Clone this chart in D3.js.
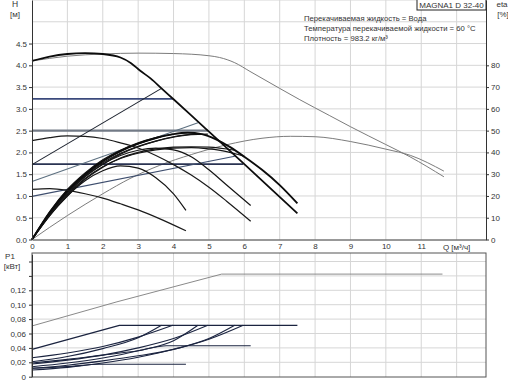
<!DOCTYPE html>
<html><head><meta charset="utf-8">
<script src="https://cdn.jsdelivr.net/npm/d3@7"></script>
<style>body{margin:0;background:#fff}svg{display:block}</style>
</head><body><svg id="c" width="508" height="381"></svg>
<script>
// ---------- tick labels / texts ----------
const qTicks=[0,1,2,3,4,5,6,7,8,9,10,11];
const qGrid=[1,2,3,4,5,6,7,8,9,10,11,12];
const hTicks=[0,0.5,1,1.5,2,2.5,3,3.5,4,4.5];
const hGrid=[0.5,1,1.5,2,2.5,3,3.5,4,4.5,5,5.5];
const etaTicks=[0,10,20,30,40,50,60,70,80];
const pTicks=[0,0.02,0.04,0.06,0.08,0.10,0.12,0.14,0.16];
const pLabelled=[0,0.02,0.04,0.06,0.08,0.10,0.12];
const titleText="MAGNA1 D 32-40";
const legendLines=["Перекачиваемая жидкость = Вода","Температура перекачиваемой жидкости = 60 °C","Плотность = 983.2 кг/м³"];

// ---------- H curves [Q m3/h, H m] ----------
const hMaxRef=[[0,4.1],[0.5,4.16],[1,4.21],[2,4.26],[3,4.28],[4,4.27],[5,4.22],[5.3,4.18],[5.73,4.06],[6.16,3.86],[7,3.47],[7.57,3.21],[8.4,2.85],[9,2.59],[10,2.18],[10.68,1.9],[11.64,1.44]];
const hMax=[[0,4.1],[0.5,4.2],[1,4.26],[1.5,4.28],[2,4.26],[2.5,4.18],[2.8,4.05],[3.05,3.88],[3.35,3.7],[3.66,3.47],[4,3.22],[4.5,2.85],[4.97,2.5],[6,1.73],[7.5,0.6]];
const hSpeed2=[[0,2.27],[0.5,2.34],[1,2.38],[1.5,2.37],[2,2.32],[2.5,2.22],[3,2.1],[3.5,1.93],[4,1.72],[4.5,1.48],[5,1.2],[5.5,0.88],[6.18,0.42]];
const hSpeed1=[[0,1.15],[0.5,1.17],[1,1.13],[1.5,1.05],[2,0.95],[2.5,0.82],[3,0.68],[3.6,0.48],[4.35,0.2]];
const cp3=[[0,3.23],[3.98,3.23]];
const cp2=[[0,2.5],[4.97,2.5]];
const cp1=[[0,1.73],[5.97,1.73]];
const pp3=[[0,1.72],[3.66,3.47]];
const pp2=[[0,1.33],[4.69,2.68]];
const pp1=[[0,0.99],[5.73,1.91]];

// ---------- efficiency curves [Q m3/h, eta %] ----------
const etaMaxRef=[[0,0],[1,11],[2,21],[2.77,28],[3.6,34],[4.5,39],[5.5,43.5],[6.5,46.5],[7.3,47.4],[8,47.2],[9,45],[10,41.5],[10.7,38.6],[11.64,31.4]];
const etaMax=[[0,0],[0.5,12.4],[1,22.4],[1.5,30],[2,36],[2.5,40.6],[3,44],[3.5,46.6],[4,48.4],[4.4,49],[4.8,48.4],[5.2,46],[5.6,42.4],[6,38],[6.5,32],[7,25],[7.5,16.6]];
const etaCp3=[[0,0],[0.5,12.8],[1,23],[1.5,30.6],[2,36.6],[2.5,41],[3,44.4],[3.5,46.8],[3.98,48.4]];
const etaPp3=[[0,0],[0.5,12],[1,22],[1.5,30],[2,36],[2.5,40.6],[3,44],[3.66,47.2]];
const etaCp2=[[0,0],[0.5,12],[1,22],[1.5,29.4],[2,35.2],[2.5,39.6],[3,42.8],[3.5,45.2],[4,47],[4.5,48.2],[4.97,48.4]];
const etaPp2=[[0,0],[0.5,11.6],[1,21.2],[1.5,28.8],[2,34.6],[2.5,39.2],[3,42.6],[3.5,45.2],[4,47.2],[4.69,48.6]];
const etaCp1=[[0,0],[0.5,11.2],[1,20.6],[1.5,28],[2,33.4],[2.5,37.2],[3,39.6],[3.5,41.2],[4,42],[4.5,42.2],[5,41.6],[5.5,40.4],[5.97,38.4]];
const etaPp1=[[0,0],[0.5,11],[1,20],[1.5,27.6],[2,33.2],[2.5,37.4],[3,40],[3.5,41.6],[4,42.4],[4.5,42.6],[5,42.4],[5.73,41]];
const etaSpeed2=[[0,0],[0.5,12],[1,21.6],[1.5,29],[2,34.6],[2.5,38.6],[3,41],[3.5,42],[4,41.2],[4.5,38],[5,32],[5.5,25],[6.18,15.6]];
const etaSpeed1=[[0,0],[0.5,11],[1,20],[1.5,27],[2,31.6],[2.5,33.8],[3,32.8],[3.5,28.4],[4,21],[4.35,13.4]];

// ---------- power curves [Q m3/h, P1 kW] ----------
const pMaxRef=[[0,0.0705],[2.4,0.104],[5.36,0.1425],[11.6,0.1425]];
const pMax=[[0,0.038],[2.47,0.0714],[7.5,0.0714]];
const pCp3=[[0,0.0264],[1,0.033],[2,0.042],[3,0.055],[3.98,0.0714]];
const pPp3=[[0,0.0208],[1,0.028],[2,0.039],[3,0.054],[3.66,0.0714]];
const pCp2=[[0,0.0176],[1,0.023],[2,0.03],[3,0.04],[4,0.053],[4.97,0.0714]];
const pPp2=[[0,0.0139],[1,0.019],[2,0.026],[3,0.036],[4,0.05],[4.69,0.0714]];
const pCp1=[[0,0.0117],[1,0.016],[2,0.022],[3,0.029],[4,0.038],[5,0.052],[5.97,0.0714]];
const pPp1=[[0,0.0093],[1,0.013],[2,0.019],[3,0.027],[4,0.038],[5,0.053],[5.73,0.0714]];
const pSpeed2=[[0,0.019],[1,0.024],[2,0.03],[3,0.036],[3.8,0.043],[6.18,0.043]];
const pSpeed1=[[0,0.0117],[1,0.014],[1.9,0.0172],[4.35,0.0172]];

// ---------- layout ----------
const svg=d3.select("#c");
const FONT="'Liberation Sans', Arial, sans-serif";
svg.attr("font-family",FONT);
const xL=32,xR=486;
const x=d3.scaleLinear().domain([0,12.83]).range([xL,xR]);
const yH=d3.scaleLinear().domain([0,5.5]).range([239.5,0]);
const yE=d3.scaleLinear().domain([0,110]).range([239.5,0]);
const pTop=253,pBot=377;
const yP=d3.scaleLinear().domain([0,0.17]).range([376.7,254.3]);

const gridC="#d6d6d6";
// top grid
const gTop=svg.append("g");
gTop.selectAll("line.v").data(qGrid).join("line").attr("x1",d=>x(d)).attr("x2",d=>x(d)).attr("y1",0).attr("y2",yH(0)).attr("stroke",gridC);
gTop.selectAll("line.h").data(hGrid).join("line").attr("x1",xL).attr("x2",xR).attr("y1",d=>yH(d)).attr("y2",d=>yH(d)).attr("stroke",gridC);
// bottom grid
const gBot=svg.append("g");
gBot.selectAll("line.v").data(qGrid).join("line").attr("x1",d=>x(d)).attr("x2",d=>x(d)).attr("y1",pTop).attr("y2",pBot).attr("stroke",gridC);
gBot.selectAll("line.h").data(pTicks.slice(1)).join("line").attr("x1",xL).attr("x2",xR).attr("y1",d=>yP(d)).attr("y2",d=>yP(d)).attr("stroke",gridC);

function draw(data,ys,color,w,curve){
  const ln=d3.line().x(d=>x(d[0])).y(d=>ys(d[1])).curve(curve||d3.curveMonotoneX);
  svg.append("path").attr("d",ln(data)).attr("fill","none").attr("stroke",color).attr("stroke-width",w).attr("stroke-linejoin","round");
}
// gray reference curves
draw(hMaxRef,yH,"#7c7c7c",1);
draw(etaMaxRef,yE,"#7c7c7c",1);
// constant pressure
draw(cp3,yH,"#3b4a7c",1.6,d3.curveLinear);
draw(cp2,yH,"#727a86",2.2,d3.curveLinear);
draw(cp1,yH,"#2a3352",1.6,d3.curveLinear);
// proportional pressure
draw(pp3,yH,"#1e2430",1.1,d3.curveLinear);
draw(pp2,yH,"#5d7080",1.1,d3.curveLinear);
draw(pp1,yH,"#3e4e6e",1.1,d3.curveLinear);
// eta curves
[etaCp3,etaPp3,etaCp2,etaPp2,etaCp1,etaPp1,etaSpeed2,etaSpeed1].forEach(d=>draw(d,yE,"#151515",1.2));
draw(etaMax,yE,"#0c0c0c",1.9);
// H speed curves
draw(hSpeed2,yH,"#1a1a1a",1.2);
draw(hSpeed1,yH,"#1a1a1a",1.2);
draw(hMax,yH,"#0c0c0c",1.8);

// power curves
draw(pMaxRef,yP,"#8a8a8a",1,d3.curveLinear);
[pCp3,pPp3,pCp2,pPp2,pCp1,pPp1,pSpeed2,pSpeed1].forEach(d=>draw(d,yP,"#1b2440",1.1));
draw(pMax,yP,"#1b2440",1.3,d3.curveLinear);

// ---------- axes ----------
const axC="#333";
function styleAxis(g){
  g.selectAll("text").attr("font-family",FONT).attr("font-size","8px").attr("fill","#333");
  g.selectAll("path.domain").attr("stroke",axC);
  g.selectAll(".tick line").attr("stroke",axC);
}
svg.append("g").attr("transform",`translate(${xL},0)`)
  .call(d3.axisLeft(yH).tickValues(hTicks).tickFormat(d3.format(".1f")).tickSize(3).tickSizeOuter(0).tickPadding(2))
  .call(styleAxis);
svg.append("g").attr("transform",`translate(0,${yH(0)})`)
  .call(d3.axisBottom(x).tickValues(qTicks).tickFormat(d3.format("d")).tickSize(0).tickSizeOuter(0).tickPadding(4))
  .call(styleAxis);
svg.append("g").attr("transform",`translate(${xR},0)`)
  .call(d3.axisRight(yE).tickValues(etaTicks).tickSize(3).tickSizeOuter(0).tickPadding(2))
  .call(styleAxis);
// bottom chart box + axis
svg.append("rect").attr("x",xL).attr("y",pTop).attr("width",xR-xL).attr("height",pBot-pTop).attr("fill","none").attr("stroke","#555").attr("stroke-width",1);
svg.append("g").attr("transform",`translate(${xL},0)`)
  .call(d3.axisLeft(yP).tickValues(pTicks).tickSize(3).tickSizeOuter(0).tickPadding(3)
     .tickFormat(d=>pLabelled.includes(d)?(d===0?"0":d3.format(".2f")(d).replace(".",",")):""))
  .call(styleAxis);

// axis titles
function txt(s,xx,yy,anchor,size){return svg.append("text").attr("x",xx).attr("y",yy).attr("text-anchor",anchor||"start").attr("font-size",(size||8)+"px").attr("fill","#333").text(s);}
txt("H",15,7,"middle",8.5);
txt("[м]",15,17,"middle",8);
txt("eta",502,7,"middle",8);
txt("[%]",503,17,"middle",8);
txt("Q [м³/ч]",x(12),249.5,"middle",8);
txt("P1",10,259,"middle",8);
txt("[кВт]",12,269,"middle",8);

// title box & legend
svg.append("rect").attr("x",417).attr("y",-1).attr("width",xR-417).attr("height",11).attr("fill","#fff").attr("stroke","#222").attr("stroke-width",1);
txt(titleText,451.5,8,"middle",8);
legendLines.forEach((s,i)=>txt(s,304,20.5+i*10.3,"start",7.7));
</script></body></html>
